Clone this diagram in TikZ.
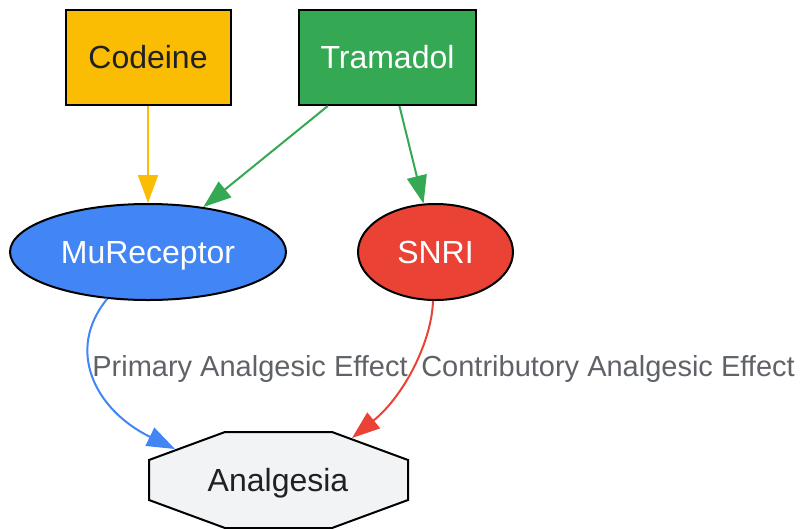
\documentclass[tikz,border=0pt]{standalone}
\usepackage{fontspec}
\setmainfont{Liberation Sans}
\usepackage{xcolor}
\usetikzlibrary{
    shapes.geometric,
    arrows.meta,
    positioning
}
\definecolor{gyellow}{HTML}{FBBC04}
\definecolor{ggreen}{HTML}{34A853}
\definecolor{gblue}{HTML}{4285F4}
\definecolor{gred}{HTML}{EA4335}
\definecolor{ggray}{HTML}{F1F3F4}
\definecolor{gtext}{HTML}{202124}
\definecolor{glabel}{HTML}{5F6368}

\begin{document}
\begin{tikzpicture}[
    x=1pt,y=-1pt,
    drug/.style={
        rectangle,
        draw,
        line width=2pt,
        minimum height=95pt,
        inner sep=0pt,
        text height=22pt,
        text depth=0pt,
        font=\fontsize{32}{36}\selectfont
    },
    target/.style={
        ellipse,
        draw,
        line width=2pt,
        minimum height=96pt,
        inner sep=0pt,
        text height=22pt,
        text depth=0pt,
        text=white,
        font=\fontsize{32}{36}\selectfont
    },
    effect/.style={
        rectangle,
        text=gtext,
        minimum width=259pt,
        minimum height=96pt,
        inner sep=0pt,
        text height=22pt,
        text depth=0pt,
        font=\fontsize{32}{36}\selectfont
    },
    octa/.style={draw,line width=2pt,fill=ggray,line join=miter},
    arrow/.style={-{Triangle[length=28pt,width=20pt]},line width=2pt},
    elabel/.style={text=glabel,text height=21pt,text depth=0pt,font=\fontsize{29}{34}\selectfont}
]
    \useasboundingbox (0,0) rectangle (800,528);
    % Nodes
    \node[drug,fill=gyellow,text=gtext,minimum width=165pt] (codeine) at (148,57.5) {Codeine};
    \node[drug,fill=ggreen,text=white,minimum width=177pt] (tramadol) at (387.5,57.5) {Tramadol};

    \node[target,fill=gblue,minimum width=276pt] (mu) at (148,252) {MuReceptor};
    \node[target,fill=gred,minimum width=155pt] (snri) at (435.5,252) {SNRI};

    % octagon outline, then its text
    \filldraw[octa] (225,432) -- (332,432) -- (408,460) -- (408,500)
        -- (332,528) -- (225,528) -- (149,500) -- (149,460) -- cycle;
    \node[effect] (analgesia) at (278,480) {Analgesia};
    \coordinate (blueend) at (175,449);
    \coordinate (redend) at (352,438);

    % Arrows
    \draw[arrow,gyellow] (codeine) -- (mu);
    \draw[arrow,ggreen] (tramadol) -- (mu);
    \draw[arrow,ggreen] (tramadol) -- (snri);
    \draw[arrow,gblue] (mu.229) .. controls (65,350) and (95,410) .. (blueend);
    \draw[arrow,gred] (snri.267) .. controls (432,340) and (405,395) .. (redend);

    % Labels
    \node[elabel] (primary) at (250,366) {Primary Analgesic Effect};
    \node[elabel] (contrib) at (608,366) {Contributory Analgesic Effect};
\end{tikzpicture}
\end{document}
